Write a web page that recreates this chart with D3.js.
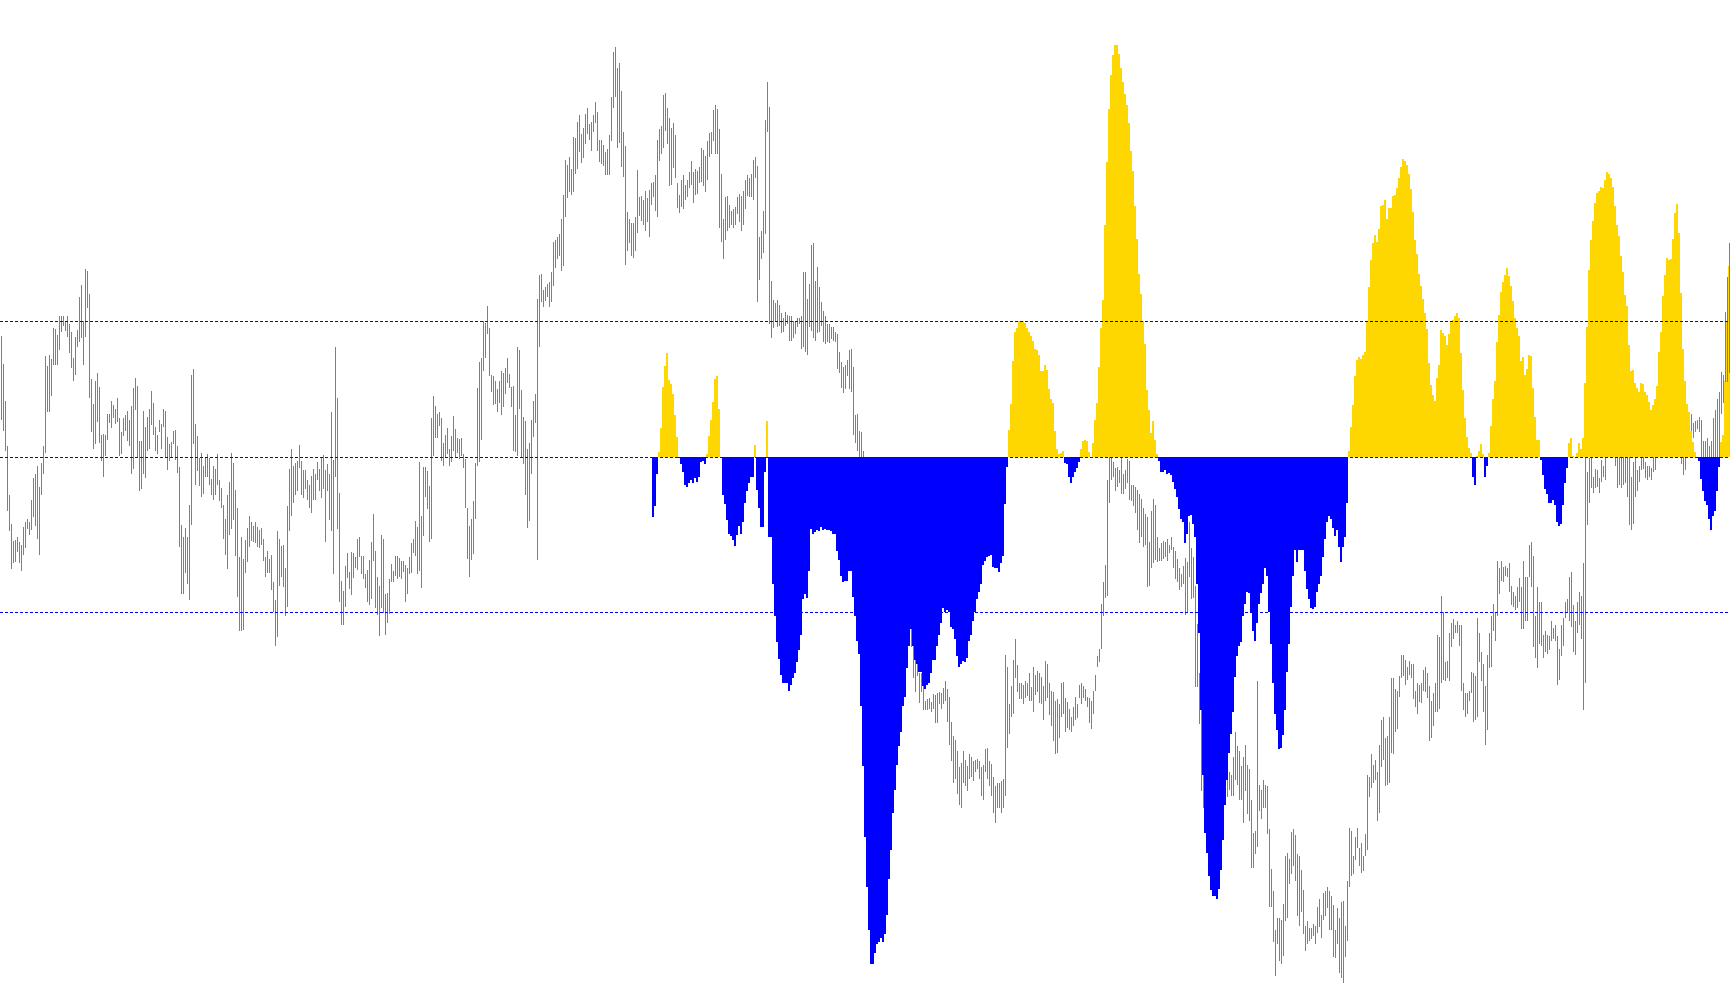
<!DOCTYPE html>
<html><head><meta charset="utf-8">
<script src="https://cdn.jsdelivr.net/npm/d3@7"></script>
<style>html,body{margin:0;padding:0;background:#fff;overflow:hidden}svg{display:block}</style>
</head><body>
<svg id="chart" width="1730" height="1005"></svg>
<script>
// Price bars (points): high / low per bar
const barHigh = [
1105,1060,1000,928,848,802,774,776,780,772,768,796,805,810,804,840,876,882,896,862,900,928,1073,1057,1075,1068,1118,1117,1107,1138,1138,1138,1130,1138,1125,1112,1070,1103,1115,1168,1188,1130,1214,1210,1173,1036,995,1032,1045,1023,945,947,945,980,980,1000,994,988,1005,973,950,973,978,984,970,992,1022,1037,1025,935,935,984,958,974,988,1016,997,958,945,970,963,988,984,942,930,934,952,953,928,894,800,780,795,780,832,1042,1052,963,944,908,916,895,908,915,908,874,895,890,914,872,860,832,810,848,870,916,900,856,828,748,780,745,775,795,814,804,798,804,796,792,795,778,748,758,745,752,708,678,790,778,766,768,730,830,890,
923,895,900,903,929,903,888,888,873,865,879,890,882,902,890,908,913,888,898,882,982,905,1088,1005,852,710,693,734,755,724,756,755,748,778,780,750,750,720,727,743,772,818,758,716,702,784,777,689,690,712,737,725,750,750,747,742,742,735,730,748,770,778,806,797,902,815,894,893,887,863,972,1008,992,980,982,972,932,945,957,923,944,976,955,940,939,940,914,906,827,798,810,838,900,1022,1063,1070,1130,1127,1154,1118,1042,1040,1032,1020,1033,1048,1046,1054,1070,1044,1023,1024,978,1088,1082,1018,975,968,922,932,970,1000,1012,1165,1204,1206,1180,1185,1190,1192,1208,1257,1260,1265,1270,1294,1333,1390,1382,1395,1375,1427,1425,1451,1463,
1432,1442,1464,1474,1448,1452,1462,1484,1468,1422,1422,1414,1402,1407,1430,1492,1564,1572,1538,1547,1502,1435,1412,1306,1295,1288,1288,1297,1374,1330,1332,1325,1340,1328,1342,1352,1355,1365,1422,1440,1445,1495,1498,1474,1458,1442,1450,1430,1352,1333,1358,1365,1350,1358,1370,1388,1370,1375,1372,1378,1410,1406,1397,1420,1434,1435,1470,1478,1472,1440,1367,1294,1330,1332,1317,1308,1310,1314,1330,1335,1332,1340,1357,1365,1360,1368,1390,1394,1380,1265,1275,1308,1455,1516,1475,1195,1164,1158,1164,1155,1143,1135,1144,1140,1138,1138,1130,1130,1134,1134,1137,1208,1208,1165,1190,1252,1256,1195,1217,1185,1160,1145,1138,1125,1124,1120,1120,1112,1108,1080,1063,1055,1058,1067,1083,1084,1055,978,980,952,950,920,880,840,810,
800,770,740,750,720,700,680,700,680,650,640,620,650,640,620,630,640,650,660,670,660,640,620,600,560,560,540,515,518,520,514,526,525,528,530,528,537,548,535,522,482,458,452,434,408,415,434,420,410,430,424,418,420,422,418,408,412,438,440,418,414,392,378,382,382,386,390,590,570,510,540,582,615,574,545,544,542,548,545,560,538,570,558,564,560,554,540,580,575,544,532,530,515,518,510,544,546,520,514,502,490,506,522,510,542,544,540,534,522,520,515,532,558,588,600,672,708,735,872,930,930,902,892,894,888,910,882,888,906,904,865,865,862,856,850,842,828,818,812,772,822,842,832,780,762,
770,774,772,778,768,780,764,758,745,730,720,734,746,740,804,762,748,702,640,560,500,400,410,400,380,370,390,420,430,440,450,440,430,435,400,395,425,465,442,435,410,425,445,412,405,355,302,305,548,380,372,388,380,378,308,243,208,145,164,165,162,187,265,270,260,304,308,298,268,265,242,210,152,160,148,148,155,152,182,195,170,205,208,215,208,200,185,145,180,165,190,192,152,225,310,305,265,295,310,278,285,265,300,395,392,430,412,420,400,445,485,490,455,458,490,552,552,534,532,555,590,590,582,570,580,575,575,532,544,542,545,565,570,560,540,515,528,545,622,618,685,660,578,580,625,
642,648,638,645,638,638,545,528,528,532,562,560,555,650,625,595,575,540,590,625,652,672,660,742,730,742,732,734,730,738,702,692,685,700,714,700,742,715,715,768,772,750,652,700,675,675,622,628,622,620,645,634,638,620,600,638,650,675,680,715,724,670,645,675,692,685,738,950,885,908,920,878,890,888,875,905,895,920,950,955,945,940,930,928,930,925,932,930,935,928,878,902,928,888,895,925,922,902,895,895,892,928,930,940,950,955,960,950,945,952,960,955,950,945,940,930,928,925,950,960,980,965,968,970,974,970,936,936,940,928,935,972,985,1004,1015,1047,1043,1144,1201,1256
];
const barLow = [
970,952,920,822,790,728,738,740,756,738,726,752,762,794,784,792,812,798,778,752,848,882,916,982,983,1008,1058,1058,1058,1082,1112,1122,1114,1103,1078,1053,1032,1043,1088,1095,1102,1058,1103,1150,1005,950,922,930,967,932,904,878,912,938,964,957,972,963,967,912,915,944,952,935,927,882,890,985,908,854,858,882,875,920,922,962,945,920,915,950,922,958,910,888,903,910,930,905,884,765,688,688,722,705,678,800,930,864,887,863,845,850,878,877,864,848,840,848,865,838,828,777,752,728,784,794,808,750,684,628,628,630,722,740,764,774,772,770,764,762,768,742,716,722,722,694,660,605,618,702,716,700,652,668,790,
815,835,848,855,892,848,843,858,840,827,819,840,840,872,854,843,858,772,854,808,790,720,878,793,675,638,638,668,714,696,686,714,730,727,748,720,712,698,675,670,680,742,665,654,620,665,658,622,642,656,708,707,718,712,715,712,724,675,688,720,722,754,750,720,725,698,782,845,825,772,778,912,940,940,960,903,895,910,915,895,902,920,908,917,907,912,892,827,745,715,743,753,810,895,902,938,1048,1070,1108,1040,1015,994,995,983,997,977,990,1012,1030,1022,990,920,918,912,988,910,898,848,795,807,882,942,964,743,1088,1160,1152,1162,1168,1153,1160,1186,1215,1230,1235,1210,1218,1298,1328,1338,1333,1338,1368,1375,1403,
1385,1393,1416,1432,1422,1405,1435,1450,1404,1387,1383,1380,1365,1365,1365,1420,1474,1492,1410,1418,1378,1363,1220,1242,1255,1235,1232,1242,1272,1300,1292,1284,1275,1290,1265,1317,1330,1308,1297,1388,1400,1410,1437,1415,1348,1350,1377,1360,1312,1304,1314,1310,1325,1330,1345,1350,1320,1333,1335,1352,1355,1348,1338,1357,1395,1400,1420,1400,1400,1280,1258,1230,1260,1275,1280,1285,1280,1284,1302,1290,1275,1285,1310,1332,1330,1330,1325,1360,1160,1196,1230,1240,1270,1435,1125,1102,1118,1130,1120,1122,1110,1112,1122,1125,1098,1098,1102,1108,1120,1125,1085,1087,1080,1074,1120,1114,1102,1098,1110,1112,1122,1095,1093,1095,1094,1100,1098,1095,1052,1045,1022,1014,1020,1040,1020,1015,945,932,920,880,860,840,800,760,720,
700,680,640,650,620,590,570,600,560,540,520,500,540,520,500,510,540,550,580,610,602,552,530,555,512,530,500,500,500,502,498,502,480,480,510,502,510,515,482,445,418,382,390,365,348,342,382,378,370,390,392,386,400,405,390,362,356,400,390,378,362,334,318,342,342,335,342,362,440,462,490,495,552,530,518,518,510,520,524,515,515,498,525,530,512,510,484,515,520,492,475,450,430,432,455,490,494,465,472,468,465,475,484,488,520,510,520,515,506,480,470,495,532,570,578,600,652,682,685,836,872,878,855,862,868,850,850,858,867,840,838,830,820,792,770,780,764,768,700,702,730,738,744,740,742,
742,745,748,742,755,760,730,712,708,695,700,705,655,658,715,680,682,538,538,478,370,342,340,320,310,300,320,350,360,370,380,360,350,360,372,362,362,388,380,355,355,318,370,332,322,245,245,268,280,338,325,342,342,300,182,182,125,70,122,95,90,103,160,165,220,235,248,225,168,152,175,138,112,122,128,130,135,122,140,150,132,162,168,180,145,145,102,100,122,75,68,60,102,128,215,232,235,258,278,248,238,240,265,275,360,375,382,388,322,335,408,420,378,380,382,432,430,465,470,522,552,556,542,550,558,552,518,505,495,514,512,532,530,520,450,455,475,498,498,502,545,550,548,552,548,
602,615,625,625,605,532,500,490,495,515,528,482,485,490,578,548,498,445,468,568,570,628,612,652,688,710,708,718,715,692,670,668,662,665,675,632,632,645,645,715,700,602,585,568,608,605,585,595,592,598,612,615,612,542,550,588,605,650,658,645,635,595,590,625,638,615,500,545,800,835,860,852,860,862,852,870,878,872,915,920,915,912,895,860,865,860,865,868,845,800,792,802,845,855,870,888,890,875,872,878,872,885,888,912,915,920,922,915,912,918,924,920,914,912,912,898,880,888,915,925,952,940,950,955,950,910,910,910,910,910,900,890,880,890,900,980,997,1031,1031,1046
];
// Oscillator histogram, starting at bar histStart
const histStart = 326;
const histValues = [
-98,-80,-28,8,47,113,147,168,125,118,102,68,32,-2,-12,-25,-45,-48,-42,-38,-43,-35,-41,-32,-8,-6,-12,4,34,60,89,126,131,77,0,-62,-76,-102,-125,-128,-135,-144,-126,-112,-125,-105,-75,-55,-43,-32,-32,19,-54,-83,-114,-113,-24,58,-130,-130,-206,-258,-300,-327,-352,-366,-366,-366,-378,-368,-358,-350,-332,-313,-288,-230,-222,-228,-185,-116,-125,-122,-118,-120,-114,-118,-116,-118,-118,-120,-124,-125,-152,-166,-192,-203,-200,-200,-185,-185,-226,-258,-298,-318,-402,-500,-614,-696,-765,
-820,-820,-802,-788,-785,-778,-785,-772,-740,-682,-635,-575,-538,-498,-468,-445,-402,-388,-342,-306,-278,-306,-328,-335,-348,-348,-370,-375,-368,-365,-350,-328,-328,-305,-288,-268,-245,-250,-248,-250,-275,-278,-295,-322,-340,-335,-330,-332,-325,-298,-288,-265,-250,-230,-218,-206,-175,-168,-162,-160,-158,-178,-180,-180,-186,-172,-160,-76,-16,44,85,155,202,208,220,220,220,216,208,202,195,187,175,172,164,138,138,148,140,110,94,87,42,12,4,7,10,-10,-12,-32,-42,-32,-24,-18,-8,12,25,28,25,8,0,22,60,87,145,208,254,374,476,562,618,650,666,666,652,628,606,586,568,540,494,462,405,352,295,264,220,182,108,76,38,58,28,5,-7,
-24,-24,-22,-28,-26,-30,-40,-52,-65,-85,-100,-105,-140,-125,-95,-94,-108,-130,-205,-285,-410,-515,-608,-640,-678,-700,-710,-710,-715,-698,-668,-620,-563,-522,-478,-448,-413,-356,-322,-306,-300,-258,-238,-218,-220,-252,-282,-298,-268,-238,-220,-205,-180,-192,-250,-303,-365,-415,-442,-472,-470,-450,-410,-348,-302,-242,-193,-150,-170,-150,-150,-150,-185,-214,-230,-244,-246,-242,-218,-205,-192,-162,-132,-105,-96,-100,-115,-128,-118,-146,-170,-146,-130,-75,10,48,84,130,157,162,158,164,169,218,274,318,345,358,347,368,405,407,415,385,403,403,422,423,434,450,468,482,478,472,457,433,396,350,328,295,276,255,232,207,152,116,100,90,128,148,205,200,196,180,198,
220,222,228,232,225,168,108,63,32,14,7,-32,-45,2,10,20,5,-32,-15,7,50,94,123,185,230,266,282,294,305,292,276,252,225,208,195,155,162,132,142,165,163,112,65,28,27,-5,-30,-52,-60,-75,-75,-70,-78,-105,-112,-108,-78,-42,-18,22,30,2,0,6,22,12,30,120,210,302,350,382,410,427,430,436,434,448,460,458,450,436,405,374,357,325,298,262,244,180,138,140,120,112,105,120,117,105,100,89,75,84,94,115,170,202,260,294,322,318,320,352,394,408,362,265,174,122,86,72,42,24,8,0,-7,-36,-56,-72,-78,-100,-118,-95,-88,-55,-16,24,35,122,218,309
];
const levels = [220, 0, -250];
const colors = { bar: '#00D800', up: '#FFD700', down: '#0000FF', level: '#0000FF' };

const W = 1730, H = 1005;
const svg = d3.select('#chart').attr('shape-rendering', 'crispEdges');
const n = barHigh.length;
const x = d3.scaleBand().domain(d3.range(n)).range([0, n * 2]).padding(0);
const plotTop = 30, pxPerUnit = 1 / 1.6165;
const yP = d3.scaleLinear().domain([0, 1600]).range([plotTop + 1600 * pxPerUnit, plotTop]);
const yH = d3.scaleLinear().domain([690 - 1600, 690]).range([plotTop + 1600 * pxPerUnit, plotTop]);

const bars = d3.range(n).map(i => ({ i, hi: barHigh[i], lo: barLow[i] }));
const frontCount = 5;

function drawBars(g, data) {
  g.selectAll('rect').data(data).join('rect')
    .attr('x', d => x(d.i) + 1)
    .attr('width', 1)
    .attr('y', d => yP(d.hi))
    .attr('height', d => Math.max(1, yP(d.lo) - yP(d.hi)))
    .attr('fill', colors.bar);
}
drawBars(svg.append('g'), bars.slice(0, n - frontCount));

const hist = histValues.map((v, j) => ({ i: histStart + j, v })).filter(d => d.v !== 0);
svg.append('g').selectAll('rect').data(hist).join('rect')
  .attr('x', d => x(d.i))
  .attr('width', x.bandwidth())
  .attr('y', d => Math.min(yH(d.v), yH(0)))
  .attr('height', d => Math.abs(yH(d.v) - yH(0)))
  .attr('fill', d => d.v > 0 ? colors.up : colors.down);

drawBars(svg.append('g'), bars.slice(n - frontCount));

svg.append('g').selectAll('line').data(levels).join('line')
  .attr('x1', 0).attr('x2', W)
  .attr('y1', d => Math.round(yH(d)) + 0.5)
  .attr('y2', d => Math.round(yH(d)) + 0.5)
  .attr('stroke', colors.level)
  .attr('stroke-width', 1)
  .attr('stroke-dasharray', '3,2')
  .attr('shape-rendering', 'auto');
</script>
</body></html>
